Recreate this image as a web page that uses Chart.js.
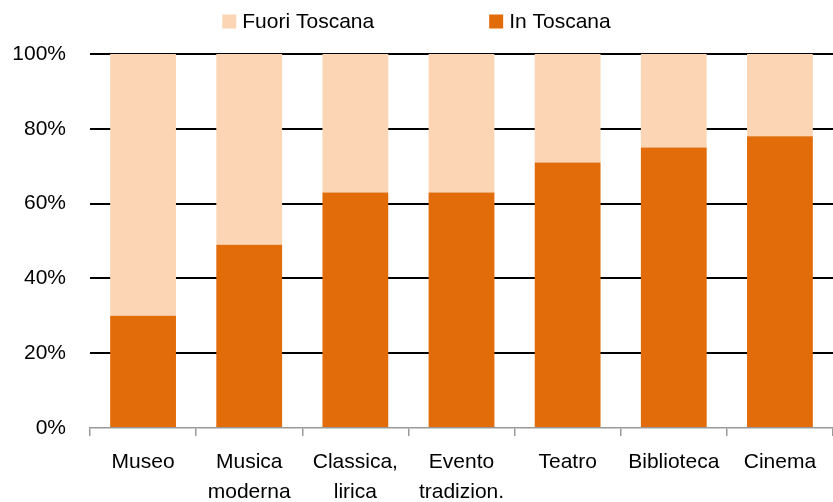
<!DOCTYPE html>
<html lang="it">
<head>
    <meta charset="UTF-8">
    <title>Fuori Toscana / In Toscana</title>
    <script src="https://cdn.jsdelivr.net/npm/chart.js"></script>
    <style>
        body {
            margin: 0;
            background: #fff;
        }
        #wrap {
            width: 833px;
            height: 502px;
        }
    </style>
</head>
<body>
    <div id="wrap">
        <canvas id="chart" width="833" height="502"></canvas>
    </div>

    <script>
        // data
        const categories = [
            ['Museo'],
            ['Musica', 'moderna'],
            ['Classica,', 'lirica'],
            ['Evento', 'tradizion.'],
            ['Teatro'],
            ['Biblioteca'],
            ['Cinema']
        ];
        const inToscana = [30, 49, 63, 63, 71, 75, 78];
        const fuoriToscana = [70, 51, 37, 37, 29, 25, 22];
        const seriesNames = ['In Toscana', 'Fuori Toscana'];

        const FONT = "'Liberation Sans', Arial, sans-serif";
        const FS = 21;

        // legend drawn by hand so the spacing matches the original
        const topLegend = {
            id: 'topLegend',
            afterDraw(chart) {
                const ctx = chart.ctx;
                const items = chart.data.datasets.slice().reverse();
                const box = 14, gap = 6, spacing = 115;
                ctx.save();
                ctx.font = FS + 'px ' + FONT;
                const widths = items.map(d => box + gap + ctx.measureText(d.label).width);
                const total = widths.reduce((a, b) => a + b, 0) + spacing * (items.length - 1);
                let x = (chart.width - total) / 2;
                const cy = 21.5;
                items.forEach((d, i) => {
                    ctx.fillStyle = d.backgroundColor;
                    ctx.fillRect(x, cy - box / 2, box, box);
                    ctx.fillStyle = '#000';
                    ctx.textBaseline = 'middle';
                    ctx.textAlign = 'left';
                    ctx.fillText(d.label, x + box + gap, cy + 1);
                    x += widths[i] + spacing;
                });
                ctx.restore();
            }
        };

        const chart = new Chart(document.getElementById('chart'), {
            type: 'bar',
            data: {
                labels: categories,
                datasets: [{
                    label: seriesNames[0],
                    data: inToscana,
                    backgroundColor: '#E36C0A',
                    barPercentage: 0.62,
                    categoryPercentage: 1
                }, {
                    label: seriesNames[1],
                    data: fuoriToscana,
                    backgroundColor: '#FCD5B5',
                    barPercentage: 0.62,
                    categoryPercentage: 1
                }]
            },
            options: {
                responsive: false,
                animation: false,
                layout: {
                    padding: { top: 54, right: 0, left: 0, bottom: 0 }
                },
                plugins: {
                    legend: { display: false },
                    tooltip: { enabled: false }
                },
                scales: {
                    x: {
                        stacked: true,
                        offset: true,
                        afterFit(scale) { scale.height = 74; },
                        border: { display: true, color: '#999', width: 1.5 },
                        grid: {
                            drawOnChartArea: false,
                            drawTicks: true,
                            tickLength: 8,
                            color: '#999',
                            lineWidth: 1.5
                        },
                        ticks: {
                            color: '#000',
                            padding: 11,
                            maxRotation: 0,
                            autoSkip: false,
                            font: { family: FONT, size: FS, lineHeight: 1.45 }
                        }
                    },
                    y: {
                        stacked: true,
                        min: 0,
                        max: 100,
                        afterFit(scale) { scale.width = 90; },
                        border: { display: false },
                        grid: {
                            drawTicks: false,
                            color: c => c.tick && c.tick.value === 0 ? 'rgba(0,0,0,0)' : '#000',
                            lineWidth: 2
                        },
                        ticks: {
                            stepSize: 20,
                            padding: 24,
                            color: '#000',
                            font: { family: FONT, size: FS },
                            callback: v => v + '%'
                        }
                    }
                }
            },
            plugins: [topLegend]
        });
    </script>
</body>
</html>
